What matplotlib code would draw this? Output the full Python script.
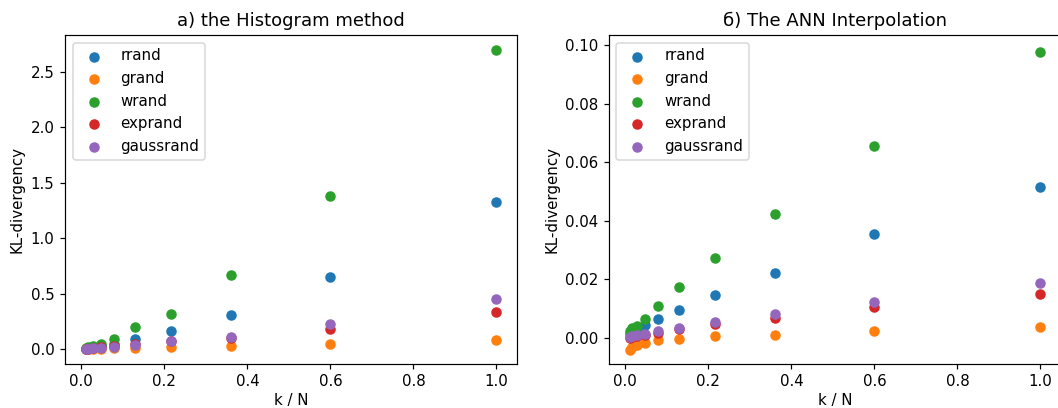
import matplotlib
matplotlib.use("Agg")
import matplotlib.pyplot as plt
import numpy as np

k_over_n = [0.0101, 0.0168, 0.028, 0.0467, 0.0778, 0.1296, 0.216, 0.36, 0.6, 1.0]
series_names = ["rrand", "grand", "wrand", "exprand", "gaussrand"]

hist_rrand = [0.004, 0.008, 0.014, 0.025, 0.05, 0.087, 0.16, 0.305, 0.65, 1.33]
hist_grand = [0.0, 0.0, 0.001, 0.003, 0.005, 0.01, 0.02, 0.03, 0.05, 0.08]
hist_wrand = [0.009, 0.015, 0.025, 0.05, 0.09, 0.195, 0.32, 0.67, 1.38, 2.70]
hist_exprand = [0.002, 0.004, 0.008, 0.015, 0.025, 0.05, 0.07, 0.10, 0.18, 0.33]
hist_gaussrand = [0.002, 0.004, 0.007, 0.012, 0.02, 0.04, 0.07, 0.11, 0.23, 0.45]

ann_rrand = [0.0015, 0.0025, 0.003, 0.0044, 0.0064, 0.0096, 0.0147, 0.0223, 0.0354, 0.0514]
ann_grand = [-0.0041, -0.0032, -0.0024, -0.0016, -0.0007, -0.0003, 0.0005, 0.001, 0.0023, 0.0036]
ann_wrand = [0.0022, 0.0033, 0.0042, 0.0064, 0.011, 0.0173, 0.0274, 0.0424, 0.0656, 0.0975]
ann_exprand = [0.0, 0.0003, 0.0005, 0.001, 0.0018, 0.003, 0.0047, 0.0069, 0.0105, 0.0150]
ann_gaussrand = [0.0004, 0.0007, 0.0009, 0.0014, 0.0022, 0.0035, 0.0054, 0.0082, 0.0124, 0.0187]

hist_data = [hist_rrand, hist_grand, hist_wrand, hist_exprand, hist_gaussrand]
ann_data = [ann_rrand, ann_grand, ann_wrand, ann_exprand, ann_gaussrand]

W, H = 1058, 408
DPI = 108
fig = plt.figure(figsize=(W / DPI, H / DPI), dpi=DPI)
ax1 = fig.add_axes([65 / W, 1 - 364 / H, (517 - 65) / W, (364 - 35) / H])
ax2 = fig.add_axes([609 / W, 1 - 364 / H, (1061 - 609) / W, (364 - 35) / H])

for ax, data, title in [(ax1, hist_data, "a) the Histogram method"),
                        (ax2, ann_data, "б) The ANN Interpolation")]:
    for name, vals in zip(series_names, data):
        ax.scatter(k_over_n, vals, label=name)
    ax.set_title(title)
    ax.set_xlabel("k / N", labelpad=2)
    ax.set_ylabel("KL-divergency")
    ax.legend(loc="upper left")

ax1.set_yticks([0.0, 0.5, 1.0, 1.5, 2.0, 2.5])
ax2.set_yticks([0.0, 0.02, 0.04, 0.06, 0.08, 0.10])
ax2.set_ylim(-0.0089, 0.1034)

fig.savefig("out.png", dpi=DPI)
